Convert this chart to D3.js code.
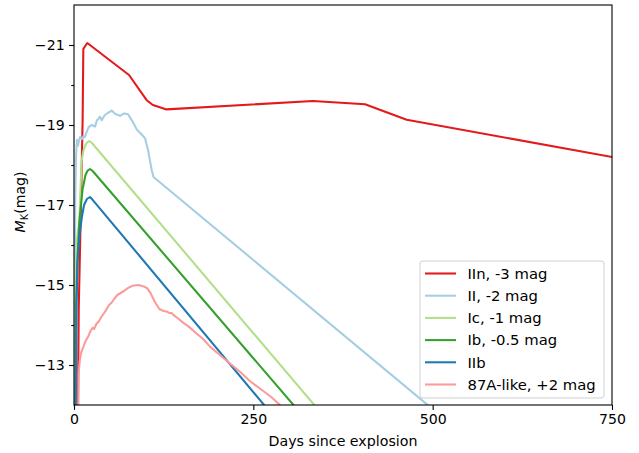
<!DOCTYPE html>
<html>
<head>
<meta charset="utf-8">
<script src="https://cdnjs.cloudflare.com/ajax/libs/d3/7.8.5/d3.min.js"></script>
<style>
    body { margin: 0; background: white; }
    text { font-family: "DejaVu Sans", sans-serif; }
</style>
</head>
<body>
<div id="chart"></div>
<script>
// light curves, [days since explosion, M_K]
const iinCurve = [[5.5, -11.9], [6.6, -14.4], [9.8, -17.1], [12, -19.1], [13, -20.9], [18.5, -21.05],
    [76.7, -20.25], [101.3, -19.62], [110, -19.5], [129, -19.39], [333, -19.6], [405.7, -19.52],
    [463.8, -19.13], [750, -18.2]];

const iiCurve = [[1, -11.9], [1.3, -15], [1.8, -17.2], [2.8, -18.2], [3.5, -18.45], [4.2, -18.63], [5.6, -18.48],
    [7, -18.62], [8.4, -18.7], [11.2, -18.65], [13, -18.72], [15.3, -18.7], [17, -18.8], [20, -18.93],
    [22, -18.97], [25, -19.0], [27, -18.98], [29.3, -18.96], [32, -19.12], [34, -19.15], [36.2, -19.21],
    [38.6, -19.12], [43, -19.25], [47, -19.3], [52.6, -19.36], [56, -19.3], [58.5, -19.27], [64.1, -19.23],
    [67, -19.26], [70.1, -19.29], [75.3, -19.27], [78, -19.19], [82.3, -19.07], [87.4, -18.89],
    [93.4, -18.78], [99, -18.67], [103.2, -18.375], [108.3, -17.875], [110.8, -17.7], [493, -12]];

const icCurve = [[1.5, -11.9], [2, -14.6], [4, -16.1], [7.4, -16.6], [9, -17.4], [10.7, -18.1],
    [13, -18.35], [15.3, -18.47], [18, -18.56], [21.3, -18.6], [25, -18.55], [335, -12]];

const ibCurve = [[2, -11.9], [3, -14.5], [5, -15.7], [7.5, -16.6], [10, -17.05], [12, -17.4],
    [16, -17.75], [19, -17.86], [22.3, -17.9], [26, -17.85], [306, -12]];

const iibCurve = [[2.5, -11.9], [3.5, -14.5], [5, -15.6], [8, -16.3], [11, -16.7], [14, -17.0],
    [18, -17.15], [22.3, -17.2], [26, -17.13], [265, -12]];

const sn87aCurve = [[6, -11.9], [6.5, -12.8], [8, -13.1], [9.8, -13.3], [12, -13.4], [14, -13.5],
    [16.7, -13.62], [20, -13.72], [23, -13.85], [26, -13.93], [28, -13.9], [31, -14.02], [35, -14.1],
    [38, -14.2], [42, -14.3], [45, -14.38], [48.8, -14.5], [52, -14.55], [56, -14.65], [60.4, -14.75],
    [65, -14.8], [69.7, -14.85], [75, -14.92], [81.3, -14.98], [90, -15.0], [97.6, -14.96], [102, -14.92],
    [106.9, -14.79], [112, -14.6], [116.1, -14.48], [119, -14.4], [121, -14.38], [125, -14.35],
    [130, -14.33], [133, -14.3], [136, -14.3], [139.4, -14.24], [146, -14.15], [153.4, -14.04],
    [160, -13.96], [170, -13.8], [180, -13.65], [189.6, -13.46], [200, -13.3], [210, -13.15],
    [220, -13.0], [231.4, -12.83], [245, -12.6], [260, -12.4], [275, -12.2], [290, -11.95]];

const seriesNames = ["IIn, -3 mag", "II, -2 mag", "Ic, -1 mag", "Ib, -0.5 mag", "IIb", "87A-like, +2 mag"];
const seriesColors = ["#e31a1c", "#a6cee3", "#b2df8a", "#33a02c", "#1f78b4", "#fb9a99"];
const allCurves = [iinCurve, iiCurve, icCurve, ibCurve, iibCurve, sn87aCurve];

const xTicks = [0, 250, 500, 750];
const yMajorTicks = [-21, -19, -17, -15, -13];
const yMinorTicks = [-20, -18, -16, -14];

// set the dimensions and margins of the graph
const margin = {top: 5, right: 27, bottom: 48, left: 74},
    width = 639 - margin.left - margin.right,
    height = 453 - margin.top - margin.bottom;

const svg = d3.select("#chart")
    .append("svg")
    .attr("width", 639)
    .attr("height", 453);

const g = svg.append("g")
    .attr("transform", `translate(${margin.left}, ${margin.top})`);

const x = d3.scaleLinear().domain([0, 750]).range([0, width]);
const y = d3.scaleLinear().domain([-12, -22]).range([height, 0]);

g.append("clipPath")
    .attr("id", "clip")
    .append("rect")
    .attr("width", width)
    .attr("height", height);

const line = d3.line()
    .x(function (d) { return x(d[0]); })
    .y(function (d) { return y(d[1]); });

// one path per type, in legend order
g.append("g")
    .attr("clip-path", "url(#clip)")
    .selectAll("path")
    .data(allCurves)
    .enter()
    .append("path")
    .attr("d", line)
    .attr("fill", "none")
    .attr("stroke", function (d, i) { return seriesColors[i]; })
    .attr("stroke-width", 2.08)
    .attr("stroke-linejoin", "round")
    .attr("stroke-linecap", "square");

// axes
const xAxis = g.append("g")
    .attr("transform", `translate(0, ${height})`)
    .call(d3.axisBottom(x).tickValues(xTicks).tickSize(4.9).tickPadding(4.5));

const yAxis = g.append("g")
    .call(d3.axisLeft(y).tickValues(yMajorTicks).tickSize(4.9).tickPadding(4.5)
        .tickFormat(function (d) { return d3.format("d")(d).replace("-", "\u2212"); }));

g.append("g")
    .call(d3.axisLeft(y).tickValues(yMinorTicks).tickSize(2.8).tickFormat(""))
    .select(".domain").remove();

[xAxis, yAxis].forEach(function (a) {
    a.selectAll("text").attr("font-size", "14.1px").attr("fill", "black")
        .style("font-family", "DejaVu Sans");
    a.select(".domain").remove();
});
g.selectAll(".tick line").attr("stroke", "black").attr("stroke-width", 1.1);

// frame
g.append("rect")
    .attr("width", width)
    .attr("height", height)
    .attr("fill", "none")
    .attr("stroke", "black")
    .attr("stroke-width", 1.1);

// axis labels
svg.append("text")
    .attr("x", margin.left + width / 2)
    .attr("y", 446)
    .attr("text-anchor", "middle")
    .attr("font-size", "14.2px")
    .text("Days since explosion");

const ylab = svg.append("text")
    .attr("transform", `translate(25, 202) rotate(-90)`)
    .attr("text-anchor", "middle")
    .attr("font-size", "14.1px");
ylab.append("tspan").attr("font-style", "italic").text("M");
ylab.append("tspan").attr("font-size", "9.8px").attr("dy", "3").text("K");
ylab.append("tspan").attr("dy", "-3").text("(mag)");

// legend
const legend = svg.append("g").attr("transform", "translate(420, 261)");
legend.append("rect")
    .attr("width", 184)
    .attr("height", 137)
    .attr("rx", 3)
    .attr("fill", "white")
    .attr("fill-opacity", 0.8)
    .attr("stroke", "#d0d0d0")
    .attr("stroke-width", 1);

const rows = legend.selectAll(".row")
    .data(seriesNames)
    .enter()
    .append("g")
    .attr("transform", function (d, i) { return `translate(0, ${12.5 + i * 22.2})`; });

rows.append("line")
    .attr("x1", 5).attr("x2", 36)
    .attr("stroke", function (d, i) { return seriesColors[i]; })
    .attr("stroke-width", 2.08);

rows.append("text")
    .attr("x", 47.5)
    .attr("dy", "0.36em")
    .attr("font-size", "14.8px")
    .text(function (d) { return d; });
</script>
</body>
</html>
